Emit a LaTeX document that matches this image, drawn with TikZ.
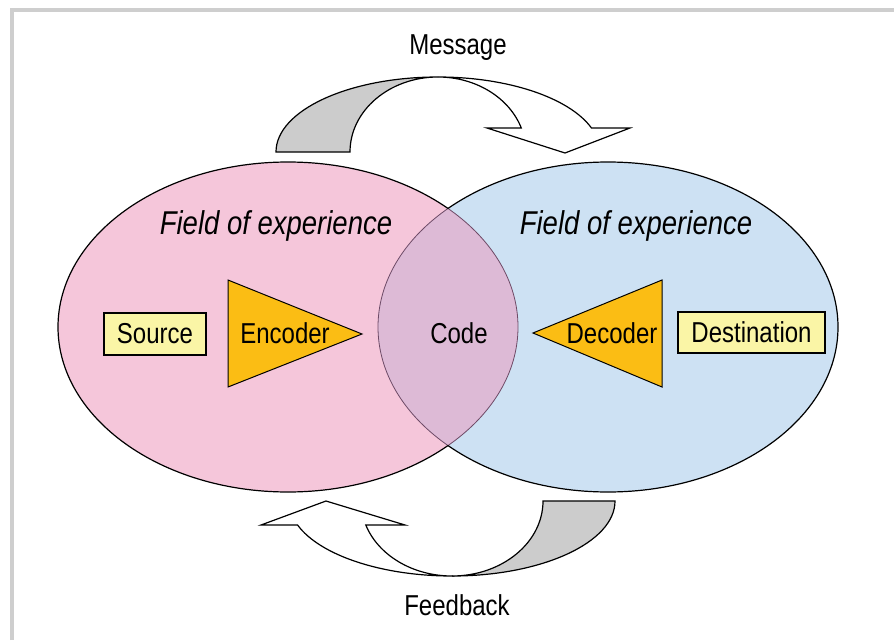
\documentclass[tikz,border=0pt]{standalone}
\usepackage{fontspec}
\setmainfont{Liberation Sans}
\usepackage{tikz}
\usetikzlibrary{shapes, shapes.geometric, calc}

\definecolor{rose}{RGB}{245,198,218}
\definecolor{bleu}{RGB}{205,225,243}
\definecolor{mauve}{RGB}{221,186,214}
\definecolor{traitmauve}{RGB}{110,74,102}
\definecolor{jaune}{RGB}{250,245,166}
\definecolor{ambre}{RGB}{251,189,20}
\definecolor{griscadre}{RGB}{206,206,206}
\definecolor{grisruban}{RGB}{204,204,204}

\newcommand{\haut}[1]{\scalebox{1}[1.2]{#1}}

\tikzstyle{etiquette} = [
    font = \fontsize{24}{28}\selectfont,
    inner sep = 0pt,
]
\tikzstyle{champ} = [
    font = \fontsize{27.5}{32}\selectfont\itshape,
    inner sep = 0pt,
]
\tikzstyle{boite} = [
    rectangle,
    draw = black,
    fill = jaune,
    line width = 1.2pt,
    etiquette,
]
\tikzstyle{triangle} = [draw = black, fill = ambre, line width = 1pt]
\tikzstyle{ruban} = [draw = black, line width = 1.2pt]

\begin{document}
\begin{tikzpicture} [x = 1pt, y = 1pt]
    \useasboundingbox (0, 0) rectangle (894, -640);
    \draw[griscadre, line width = 4pt] (12, -640) -- (12, -10) -- (894, -10);

    % les deux champs
    \fill[rose] (288, -327) ellipse [x radius = 230, y radius = 165];
    \fill[bleu] (608, -327) ellipse [x radius = 230, y radius = 165];
    \begin{scope}
        \clip (288, -327) ellipse [x radius = 230, y radius = 165];
        \fill[mauve] (608, -327) ellipse [x radius = 230, y radius = 165];
        \draw[traitmauve, line width = 0.8pt] (608, -327) ellipse [x radius = 230, y radius = 165];
    \end{scope}
    \begin{scope}
        \clip (608, -327) ellipse [x radius = 230, y radius = 165];
        \draw[traitmauve, line width = 0.8pt] (288, -327) ellipse [x radius = 230, y radius = 165];
    \end{scope}
    \begin{scope}[even odd rule]
        \clip (-10, 10) rectangle (904, -650) (608, -327) ellipse [x radius = 230, y radius = 165];
        \draw[line width = 1.2pt] (288, -327) ellipse [x radius = 230, y radius = 165];
    \end{scope}
    \begin{scope}[even odd rule]
        \clip (-10, 10) rectangle (904, -650) (288, -327) ellipse [x radius = 230, y radius = 165];
        \draw[line width = 1.2pt] (608, -327) ellipse [x radius = 230, y radius = 165];
    \end{scope}

    % fleche du haut
    \filldraw[ruban, fill = grisruban] (276, -152) arc[start angle = 180, end angle = 90, x radius = 162, y radius = 75]
        arc[start angle = 90, end angle = 180, x radius = 88, y radius = 75] -- cycle;
    \filldraw[ruban, fill = white] (438, -77) arc[start angle = 90, end angle = 18.66, x radius = 162, y radius = 75]
        -- (630, -128) -- (565, -153) -- (487, -128) -- (521.3, -128)
        arc[start angle = 18.66, end angle = 90, x radius = 88, y radius = 75] -- cycle;

    % fleche du bas
    \filldraw[ruban, fill = grisruban] (615, -501) arc[start angle = 0, end angle = -90, x radius = 163, y radius = 75]
        arc[start angle = -90, end angle = 0, x radius = 91, y radius = 75] -- cycle;
    \filldraw[ruban, fill = white] (452, -576) arc[start angle = -90, end angle = -161.34, x radius = 163, y radius = 75]
        -- (261, -525) -- (326, -501) -- (405, -525) -- (365.8, -525)
        arc[start angle = -161.34, end angle = -90, x radius = 91, y radius = 75] -- cycle;

    \node (Message) [etiquette] at (458, -48) {\haut{Message}};
    \node (Feedback) [etiquette] at (457, -605) {\haut{Feedback}};

    \node (ChampGauche) [champ] at (276, -226) {\haut{Field of experience}};
    \node (ChampDroit) [champ] at (636, -226) {\haut{Field of experience}};

    \node (Source) [boite, minimum width = 102pt, minimum height = 42pt] at (155, -334) {\haut{Source}};
    \node (Destination) [boite, minimum width = 147pt, minimum height = 41pt] at (751.5, -332.5) {\haut{Destination}};

    \coordinate (EncHaut) at (228, -280);
    \coordinate (EncBas) at (228, -387);
    \coordinate (EncPointe) at (362, -334);
    \draw[triangle] (EncHaut) -- (EncPointe) -- (EncBas) -- cycle;
    \node (Encoder) [etiquette] at (285, -333) {\haut{Encoder}};

    \coordinate (DecHaut) at (662, -280);
    \coordinate (DecBas) at (662, -387);
    \coordinate (DecPointe) at (533, -333);
    \draw[triangle] (DecHaut) -- (DecPointe) -- (DecBas) -- cycle;
    \node (Decoder) [etiquette] at (612, -333) {\haut{Decoder}};

    \node (Code) [etiquette] at (459, -333) {\haut{Code}};
\end{tikzpicture}
\end{document}
